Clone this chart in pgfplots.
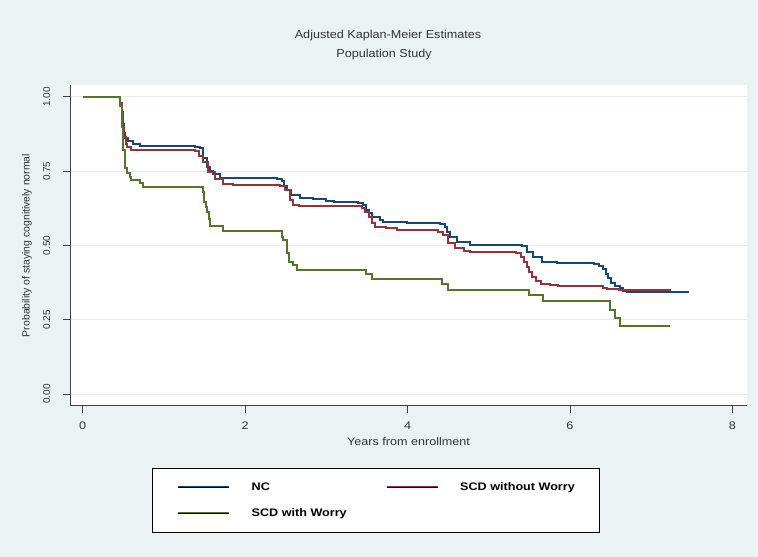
\documentclass[border=0pt]{standalone}
\usepackage{fontspec}
\setmainfont{Liberation Sans}
\newfontfamily\hfont[FakeStretch=1.15]{Liberation Sans}
\newfontfamily\tfont[FakeStretch=1.1]{Liberation Sans}
\usepackage{pgfplots}
\pgfplotsset{compat=1.18}
\definecolor{bgc}{HTML}{EAF2F3}
\definecolor{gridc}{HTML}{E3EAEC}
\definecolor{ncc}{HTML}{1A476F}
\definecolor{woc}{HTML}{90353B}
\definecolor{wic}{HTML}{55752F}
\definecolor{txt}{HTML}{333333}
\begin{document}
\begin{tikzpicture}
\fill[bgc] (0bp,0bp) rectangle (758bp,557bp);
\node[font=\tfont\fontsize{11.5}{13}\selectfont, text=txt, anchor=base] at (388bp,518bp) {Adjusted Kaplan-Meier Estimates};
\node[font=\tfont\fontsize{11.5}{13}\selectfont, text=txt, anchor=base] at (384bp,499.5bp) {Population Study};
\begin{axis}[
  at={(70bp,151bp)}, anchor=south west, scale only axis,
  width=677bp, height=321bp,
  xmin=-0.156, xmax=8.18, ymin=-0.04, ymax=1.04,
  axis lines*=left,
  axis line style={color=black!75, line width=1bp},
  axis background/.style={fill=white},
  xtick={0,2,4,6,8}, ytick={0,0.25,0.5,0.75,1},
  tick align=outside, major tick length=7bp,
  tick style={color=black!75, line width=0.8bp},
  ymajorgrids, major grid style={gridc, line width=1bp},
  /pgf/number format/assume math mode=true,
  yticklabel={\pgfmathprintnumber[fixed,fixed zerofill,precision=2]{\tick}},
  yticklabel style={xshift=-12.5bp, rotate=90, anchor=south, inner sep=0pt, font=\fontsize{10}{12}\selectfont, text=txt},
  xticklabel style={anchor=north, inner sep=0pt, text height=7.8bp, yshift=-9bp, font=\hfont\fontsize{11}{13}\selectfont, text=txt},
  xlabel={Years from enrollment},
  ylabel={Probability of staying cognitively normal},
  every axis x label/.style={at={(axis description cs:0.5,0)}, anchor=base, yshift=-39.7bp, font=\hfont\fontsize{11}{13}\selectfont, text=txt},
  every axis y label/.style={at={(axis description cs:0,0.5)}, xshift=-40.5bp, rotate=90, anchor=base, font=\fontsize{10.5}{12}\selectfont, text=txt},
  legend columns=2,
  legend image code/.code={\draw[#1, line width=2bp] (0bp,0bp) -- (51bp,0bp);},
  legend style={at={(0.452,-0.19315)}, anchor=north, draw=none, fill=white,
    postaction={draw=black, line width=0.8bp},
    inner xsep=25bp, inner ysep=14bp,
    nodes={inner sep=0pt, text height=8bp, text depth=2bp},
    cells={anchor=west}, row sep=16bp,
    font=\hfont\bfseries\fontsize{11}{13}\selectfont,
    /tikz/every odd column/.append style={column sep=21.5bp},
    /tikz/every even column/.append style={column sep=39bp}},
]
\addplot[const plot, color=ncc, line width=2bp] coordinates {
(0,1.0) (0.46,0.98) (0.48,0.95) (0.50,0.91) (0.51,0.88) (0.52,0.861) (0.56,0.85) (0.62,0.84) (0.71,0.836)
(1.383,0.832) (1.445,0.827) (1.485,0.794) (1.527,0.763) (1.57,0.75) (1.61,0.74) (1.69,0.728)
(2.39,0.724) (2.45,0.718) (2.48,0.70) (2.51,0.687) (2.57,0.670) (2.68,0.659) (2.84,0.655) (3.00,0.651) (3.09,0.648)
(3.39,0.644) (3.455,0.636) (3.49,0.62) (3.52,0.608) (3.56,0.595) (3.66,0.586) (3.70,0.580) (3.99,0.575)
(4.40,0.571) (4.46,0.563) (4.49,0.545) (4.52,0.530) (4.61,0.513) (4.77,0.502)
(5.41,0.497) (5.47,0.479) (5.55,0.462) (5.65,0.445) (5.84,0.440)
(6.29,0.437) (6.36,0.430) (6.41,0.42) (6.44,0.405) (6.47,0.39) (6.51,0.374) (6.56,0.364) (6.61,0.356) (6.65,0.348) (6.70,0.344)
(7.46,0.344)
};
\addlegendentry{NC}
\addplot[const plot, color=woc, line width=2bp] coordinates {
(0,1.0) (0.46,0.98) (0.48,0.95) (0.50,0.90) (0.51,0.865) (0.53,0.842) (0.54,0.833) (0.60,0.822)
(1.383,0.818) (1.43,0.80) (1.485,0.782) (1.547,0.748) (1.63,0.723) (1.73,0.707) (1.85,0.704)
(2.43,0.70) (2.49,0.687) (2.55,0.653) (2.59,0.636) (2.66,0.633)
(3.435,0.627) (3.48,0.612) (3.52,0.597) (3.56,0.575) (3.60,0.563) (3.74,0.558) (3.87,0.552)
(4.38,0.547) (4.44,0.535) (4.50,0.507) (4.58,0.49) (4.69,0.483) (4.77,0.479)
(5.34,0.474) (5.40,0.462) (5.44,0.445) (5.47,0.428) (5.50,0.41) (5.53,0.393) (5.58,0.38) (5.64,0.372) (5.75,0.367) (5.85,0.364)
(6.41,0.358) (6.46,0.352) (6.60,0.349)
(7.24,0.349)
};
\addlegendentry{SCD without Worry}
\addplot[const plot, color=wic, line width=2bp] coordinates {
(0,1.0) (0.46,0.97) (0.48,0.90) (0.50,0.82) (0.52,0.76) (0.54,0.743) (0.58,0.73) (0.60,0.72) (0.71,0.709) (0.746,0.696)
(1.477,0.68) (1.49,0.647) (1.52,0.63) (1.53,0.614) (1.55,0.59) (1.57,0.566)
(1.73,0.549)
(2.45,0.53) (2.47,0.519) (2.51,0.474) (2.54,0.445) (2.59,0.434) (2.64,0.418)
(3.49,0.403) (3.56,0.386)
(4.42,0.369) (4.50,0.350)
(5.50,0.333) (5.67,0.314)
(6.49,0.283) (6.55,0.255) (6.61,0.229)
(7.23,0.229)
};
\addlegendentry{SCD with Worry}
\end{axis}
\end{tikzpicture}
\end{document}
